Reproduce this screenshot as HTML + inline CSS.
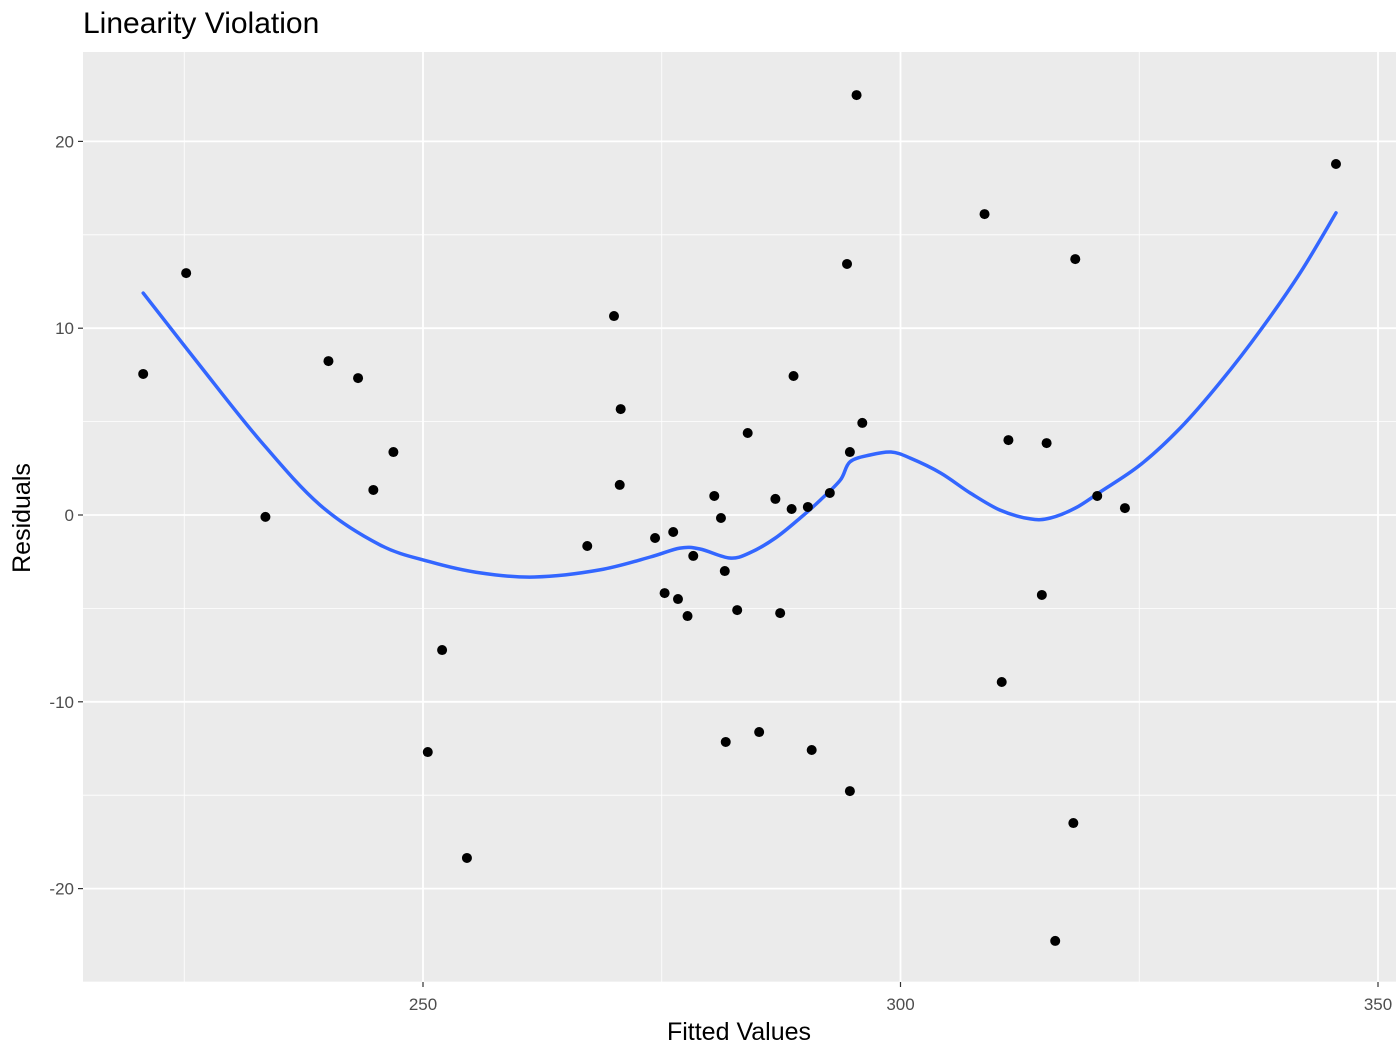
<!DOCTYPE html>
<html><head><meta charset="utf-8"><style>
html,body{margin:0;padding:0;background:#fff;}
svg text{font-family:"Liberation Sans",Arial,sans-serif;}
</style></head><body>
<svg id="chart" width="1400" height="1049" xmlns="http://www.w3.org/2000/svg">
<rect width="1400" height="1049" fill="#fff"/>
<text x="83" y="33" font-size="30" fill="#000">Linearity Violation</text>
<rect x="83" y="52" width="1313" height="930" fill="#ebebeb"/>
<g id="grid"></g><g id="curve"></g><g id="pts"></g><g id="axes"></g>
<text x="739" y="1040" font-size="25" text-anchor="middle" fill="#000">Fitted Values</text>
<text transform="translate(30,518) rotate(-90)" font-size="25" text-anchor="middle" fill="#000">Residuals</text>
</svg>
<script>
const fittedX=[220.7,225.2,233.5,240.1,243.2,244.8,246.9,250.5,252.0,254.6,267.2,270.0,270.6,270.7,274.3,275.3,276.2,276.7,277.7,278.3,280.5,281.2,281.6,281.7,282.9,284.0,285.2,286.9,287.4,288.6,288.8,290.3,290.7,292.6,294.4,294.7,294.7,295.4,296.0,308.8,310.6,311.3,314.8,315.3,316.2,318.1,318.3,320.6,323.5,345.6];
const residY=[7.55,12.95,-0.1,8.24,7.33,1.34,3.37,-12.69,-7.23,-18.36,-1.66,10.65,1.61,5.67,-1.23,-4.18,-0.91,-4.5,-5.41,-2.19,1.02,-0.16,-3.0,-12.15,-5.09,4.39,-11.62,0.86,-5.25,0.32,7.44,0.43,-12.58,1.18,13.44,3.37,-14.78,22.48,4.93,16.11,-8.94,4.01,-4.28,3.85,-22.8,-16.49,13.7,1.02,0.37,18.79];
const smoothX=[220.7,226.6,232.9,239.2,245.5,250.7,256.0,261.7,268.5,273.8,276.9,279.0,282.1,284.2,286.9,289.5,291.6,293.7,294.7,296.8,299.0,301.0,304.2,307.3,310.4,313.6,315.7,318.3,320.9,325.1,329.3,333.5,337.7,341.9,345.6];
const smoothY=[11.88,8.03,4.01,0.54,-1.6,-2.5,-3.1,-3.32,-2.94,-2.25,-1.77,-1.82,-2.3,-2.03,-1.23,-0.16,0.8,1.87,2.84,3.21,3.37,3.05,2.25,1.18,0.27,-0.21,-0.16,0.37,1.23,2.68,4.66,7.12,9.9,13.0,16.17];
const xMajor=[250,300,350], xMinor=[225,275,325];
const yMajor=[-20,-10,0,10,20], yMinor=[-25,-15,-5,5,15];
const xs=v=>423+(v-250)*9.55, ys=v=>515-v*18.68;
const NS="http://www.w3.org/2000/svg";
function mk(parent,tag,attrs){const e=document.createElementNS(NS,tag);for(const k in attrs)e.setAttribute(k,attrs[k]);document.getElementById(parent).appendChild(e);return e;}
const X0=83,X1=1396,Y0=52,Y1=982;
xMinor.forEach(v=>{const e=mk('grid','line',{x1:xs(v),x2:xs(v),y1:Y0,y2:Y1,stroke:'#fff','stroke-width':0.8});

});
yMinor.forEach(v=>{const y=ys(v);if(y<Y0||y>Y1)return;const e=mk('grid','line',{x1:X0,x2:X1,y1:y,y2:y,stroke:'#fff','stroke-width':0.8});

});
xMajor.forEach(v=>{const e=mk('grid','line',{x1:xs(v),x2:xs(v),y1:Y0,y2:Y1,stroke:'#fff','stroke-width':1.8});


const t=mk('axes','line',{x1:xs(v),x2:xs(v),y1:Y1,y2:Y1+5,stroke:'#333','stroke-width':1.2});


const l=mk('axes','text',{x:xs(v),y:1010,'font-size':17,'text-anchor':'middle',fill:'#4d4d4d'});l.textContent=v;

});
yMajor.forEach(v=>{const y=ys(v);const e=mk('grid','line',{x1:X0,x2:X1,y1:y,y2:y,stroke:'#fff','stroke-width':1.8});


const t=mk('axes','line',{x1:X0-5,x2:X0,y1:y,y2:y,stroke:'#333','stroke-width':1.2});


const l=mk('axes','text',{x:X0-9,y:y+6,'font-size':17,'text-anchor':'end',fill:'#4d4d4d'});l.textContent=v;

});
const P=smoothX.map((v,i)=>[xs(v),ys(smoothY[i])]);
let d='M'+P[0][0].toFixed(1)+','+P[0][1].toFixed(1);
for(let i=0;i<P.length-1;i++){const p0=P[Math.max(0,i-1)],p1=P[i],p2=P[i+1],p3=P[Math.min(P.length-1,i+2)];
const c1=[p1[0]+(p2[0]-p0[0])/6,p1[1]+(p2[1]-p0[1])/6],c2=[p2[0]-(p3[0]-p1[0])/6,p2[1]-(p3[1]-p1[1])/6];
d+='C'+c1.map(n=>n.toFixed(1)).join(',')+' '+c2.map(n=>n.toFixed(1)).join(',')+' '+p2.map(n=>n.toFixed(1)).join(',');}
const p=mk('curve','path',{d:d,fill:'none',stroke:'#3366ff','stroke-width':3.5,'stroke-linejoin':'round','stroke-linecap':'round'});


fittedX.forEach((v,i)=>{const c=mk('pts','circle',{cx:xs(v),cy:ys(residY[i]),r:5,fill:'#000'});

});
</script>
</body></html>
